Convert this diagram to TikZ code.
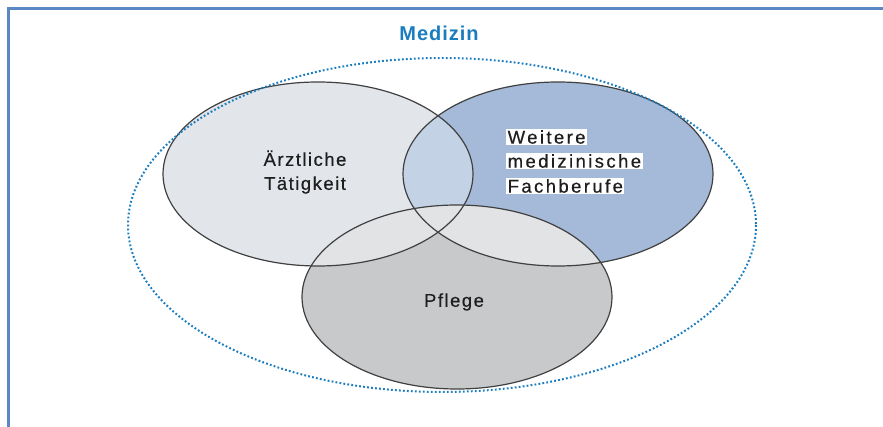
\documentclass[tikz,border=0pt]{standalone}
\usepackage{fontspec}
\setmainfont{Liberation Sans}
\definecolor{frameblue}{HTML}{5B87C5}
\definecolor{medblue}{HTML}{1A7DC0}
\definecolor{arztfill}{HTML}{E2E5EA}
\definecolor{weitfill}{HTML}{A4BAD8}
\definecolor{awfill}{HTML}{C3D3E5}
\definecolor{pflfill}{HTML}{C8C9CB}
\definecolor{pxfill}{HTML}{E2E3E5}
\definecolor{edge}{HTML}{404040}
\definecolor{txt}{HTML}{1E1E1E}
\begin{document}
\begin{tikzpicture}[x=1pt,y=-1pt,
  setedge/.style={draw=edge,line width=1.2pt},
  lbl/.style={text=txt,font=\fontsize{18.5}{24}\selectfont\addfontfeatures{LetterSpace=8,FakeBold=0.4},align=center},
  wlbl/.style={text=txt,fill=white,inner xsep=1.5pt,inner ysep=1pt,anchor=west,font=\fontsize{18.5}{20}\selectfont\addfontfeatures{LetterSpace=13,FakeBold=0.4}}]
\useasboundingbox (0,0) rectangle (883,427);
% frame
\draw[frameblue,line width=3pt] (8,427) -- (8,9) -- (883,9);
% fills
\fill[arztfill] (318,174) ellipse [x radius=155,y radius=92];
\fill[weitfill] (558,174) ellipse [x radius=155,y radius=92];
\begin{scope}
  \clip (318,174) ellipse [x radius=155,y radius=92];
  \fill[awfill] (558,174) ellipse [x radius=155,y radius=92];
\end{scope}
\fill[pflfill] (457,297) ellipse [x radius=155,y radius=92];
\begin{scope}
  \clip (457,297) ellipse [x radius=155,y radius=92];
  \fill[pxfill] (318,174) ellipse [x radius=155,y radius=92];
  \fill[pxfill] (558,174) ellipse [x radius=155,y radius=92];
\end{scope}
% outlines
\draw[setedge] (318,174) ellipse [x radius=155,y radius=92];
\draw[setedge] (558,174) ellipse [x radius=155,y radius=92];
\draw[setedge] (457,297) ellipse [x radius=155,y radius=92];
% Medizin
\draw[medblue,line width=2pt,dash pattern=on 1.8pt off 2.2pt] (442,225) ellipse [x radius=314,y radius=167];
\node (med) at (439,33) {\color{medblue}\fontsize{20}{20}\selectfont\bfseries\addfontfeatures{LetterSpace=5}Medizin};
% labels
\node[lbl] (arzt) at (305,172) {Ärztliche\\Tätigkeit};
\node[lbl] (pfl) at (454,302) {Pflege};
\node[wlbl] (w1) at (506,137) {Weitere};
\node[wlbl] (w2) at (506,161) {medizinische};
\node[wlbl] (w3) at (506,186) {Fachberufe};
\end{tikzpicture}
\end{document}
